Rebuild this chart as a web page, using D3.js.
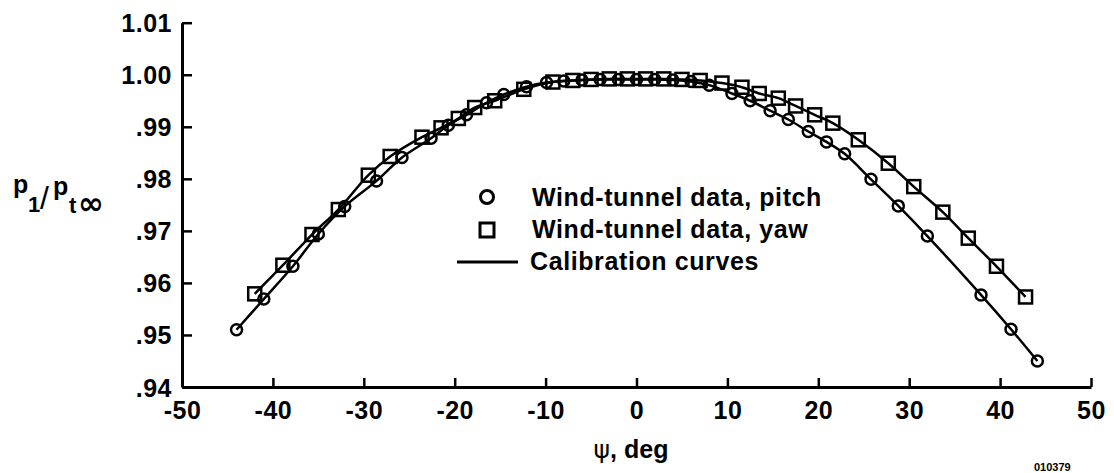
<!DOCTYPE html>
<html>
<head>
<meta charset="utf-8">
<script src="https://cdn.jsdelivr.net/npm/d3@7/dist/d3.min.js"></script>
<style>
  html, body { margin: 0; padding: 0; background: #fff; }
  svg { display: block; }
  text { font-family: "Liberation Sans", Arial, Helvetica, sans-serif; font-weight: bold; fill: #000; }
</style>
</head>
<body>
<svg id="chart" width="1114" height="473"></svg>
<script>
// ---- data ----
const pitchPsi = [-44.0, -41.0, -37.8, -35.0, -32.1, -28.6, -25.8, -22.6, -20.7, -18.7, -16.5, -14.6, -12.1, -9.9, -8.0, -6.0, -4.0, -2.0, 0.0, 2.0, 4.0, 6.0, 8.0, 10.5, 12.5, 14.7, 16.7, 18.9, 20.9, 22.9, 25.8, 28.8, 32.0, 37.9, 41.2, 44.1];
const pitchVal = [0.9510, 0.9569, 0.9632, 0.9694, 0.9747, 0.9796, 0.9841, 0.9878, 0.9903, 0.9923, 0.9946, 0.9962, 0.9977, 0.9985, 0.9988, 0.9990, 0.9991, 0.9991, 0.9991, 0.9991, 0.9990, 0.9987, 0.9980, 0.9964, 0.9950, 0.9931, 0.9914, 0.9891, 0.9871, 0.9848, 0.9799, 0.9748, 0.9690, 0.9577, 0.9511, 0.9450];

const yawPsi = [-42.0, -38.9, -35.7, -32.8, -29.5, -27.1, -23.6, -21.5, -19.6, -17.8, -15.6, -12.4, -9.2, -7.0, -5.0, -3.0, -1.0, 1.0, 3.0, 5.0, 7.0, 9.4, 11.6, 13.5, 15.6, 17.5, 19.6, 21.6, 24.4, 27.7, 30.5, 33.7, 36.5, 39.6, 42.8];
const yawVal = [0.9579, 0.9634, 0.9693, 0.9741, 0.9807, 0.9843, 0.9880, 0.9898, 0.9916, 0.9937, 0.9950, 0.9972, 0.9986, 0.9989, 0.9991, 0.9992, 0.9992, 0.9992, 0.9992, 0.9991, 0.9989, 0.9984, 0.9976, 0.9964, 0.9955, 0.9940, 0.9923, 0.9907, 0.9875, 0.9830, 0.9785, 0.9736, 0.9686, 0.9632, 0.9573];

const xTicks = [-50, -40, -30, -20, -10, 0, 10, 20, 30, 40, 50];
const xTickLabels = ["-50", "-40", "-30", "-20", "-10", "0", "10", "20", "30", "40", "50"];
const yTicks = [0.94, 0.95, 0.96, 0.97, 0.98, 0.99, 1.00, 1.01];
const yTickLabels = [".94", ".95", ".96", ".97", ".98", ".99", "1.00", "1.01"];

const legendLabels = ["Wind-tunnel data, pitch", "Wind-tunnel data, yaw", "Calibration curves"];

// ---- drawing ----
const svg = d3.select("#chart");
const x = d3.scaleLinear().domain([-50, 50]).range([182, 1091]);
const y = d3.scaleLinear().domain([0.94, 1.01]).range([387, 22.7]);

const FS = 25;

// axes
const xAxis = d3.axisBottom(x).tickValues(xTicks).tickSize(-9).tickSizeOuter(0)
  .tickFormat((d, i) => xTickLabels[i]).tickPadding(14);
const yAxis = d3.axisLeft(y).tickValues(yTicks).tickSize(-10).tickSizeOuter(0)
  .tickFormat((d, i) => yTickLabels[i]).tickPadding(10);

const gx = svg.append("g").attr("transform", `translate(0,${y(0.94)})`).call(xAxis);
const gy = svg.append("g").attr("transform", `translate(${x(-50)},0)`).call(yAxis);

[gx, gy].forEach(g => {
  g.select(".domain").attr("stroke", "#000").attr("stroke-width", 3);
  g.selectAll(".tick line").attr("stroke", "#000").attr("stroke-width", 2.5);
  g.selectAll(".tick text").attr("font-size", FS).attr("font-family", "Liberation Sans, Arial, sans-serif")
    .attr("font-weight", "bold").attr("fill", "#000").style("letter-spacing", "0.5px");
});
gx.selectAll(".tick text").attr("dy", "0.71em");
gy.selectAll(".tick text").attr("dy", "0.36em");

// calibration curves
const line = d3.line().x(d => x(d[0])).y(d => y(d[1])).curve(d3.curveCatmullRom.alpha(0.5));
const pitch = pitchPsi.map((p, i) => [p, pitchVal[i]]);
const yaw = yawPsi.map((p, i) => [p, yawVal[i]]);

svg.append("path").datum(pitch).attr("d", line).attr("fill", "none").attr("stroke", "#000").attr("stroke-width", 2.5);
svg.append("path").datum(yaw).attr("d", line).attr("fill", "none").attr("stroke", "#000").attr("stroke-width", 2.5);

// markers
const SQ = 13;
svg.append("g").selectAll("rect").data(yaw).join("rect")
  .attr("x", d => x(d[0]) - SQ / 2).attr("y", d => y(d[1]) - SQ / 2)
  .attr("width", SQ).attr("height", SQ)
  .attr("fill", "none").attr("stroke", "#000").attr("stroke-width", 2.5);
svg.append("g").selectAll("circle").data(pitch).join("circle")
  .attr("cx", d => x(d[0])).attr("cy", d => y(d[1])).attr("r", 5.5)
  .attr("fill", "none").attr("stroke", "#000").attr("stroke-width", 2.5);

// legend
const lg = svg.append("g");
lg.append("circle").attr("cx", 487).attr("cy", 197).attr("r", 6.5)
  .attr("fill", "none").attr("stroke", "#000").attr("stroke-width", 3);
lg.append("rect").attr("x", 487 - 7).attr("y", 230 - 7).attr("width", 14).attr("height", 14)
  .attr("fill", "none").attr("stroke", "#000").attr("stroke-width", 3);
lg.append("line").attr("x1", 457).attr("x2", 518).attr("y1", 262).attr("y2", 262)
  .attr("stroke", "#000").attr("stroke-width", 3);
const legY = [206, 238, 270];
const legX = [532, 532, 530];
legendLabels.forEach((t, i) => {
  lg.append("text").attr("x", legX[i]).attr("y", legY[i]).attr("font-size", FS)
    .style("letter-spacing", "0.6px").text(t);
});

// axis titles
const xt = svg.append("text").attr("x", 631).attr("y", 458).attr("text-anchor", "middle").attr("font-size", FS);
xt.append("tspan").attr("font-family", "DejaVu Sans, sans-serif").attr("font-weight", "normal").text("ψ");
xt.append("tspan").text(", deg");

const yt = svg.append("text").attr("font-size", FS);
yt.append("tspan").attr("x", 13).attr("y", 193).text("p");
yt.append("tspan").attr("x", 28).attr("y", 212).attr("font-size", 22).text("1");
yt.append("tspan").attr("x", 40).attr("y", 209).attr("font-size", 32).attr("font-weight", "normal").text("/");
yt.append("tspan").attr("x", 53).attr("y", 195).text("p");
yt.append("tspan").attr("x", 69).attr("y", 213).attr("font-size", 22).text("t");
yt.append("tspan").attr("x", 78).attr("y", 214).attr("font-size", 31).attr("font-family", "DejaVu Sans, sans-serif").text("∞");

// figure number
svg.append("text").attr("x", 1034).attr("y", 471).attr("font-size", 11).attr("font-weight", "normal").text("010379");
</script>
</body>
</html>
